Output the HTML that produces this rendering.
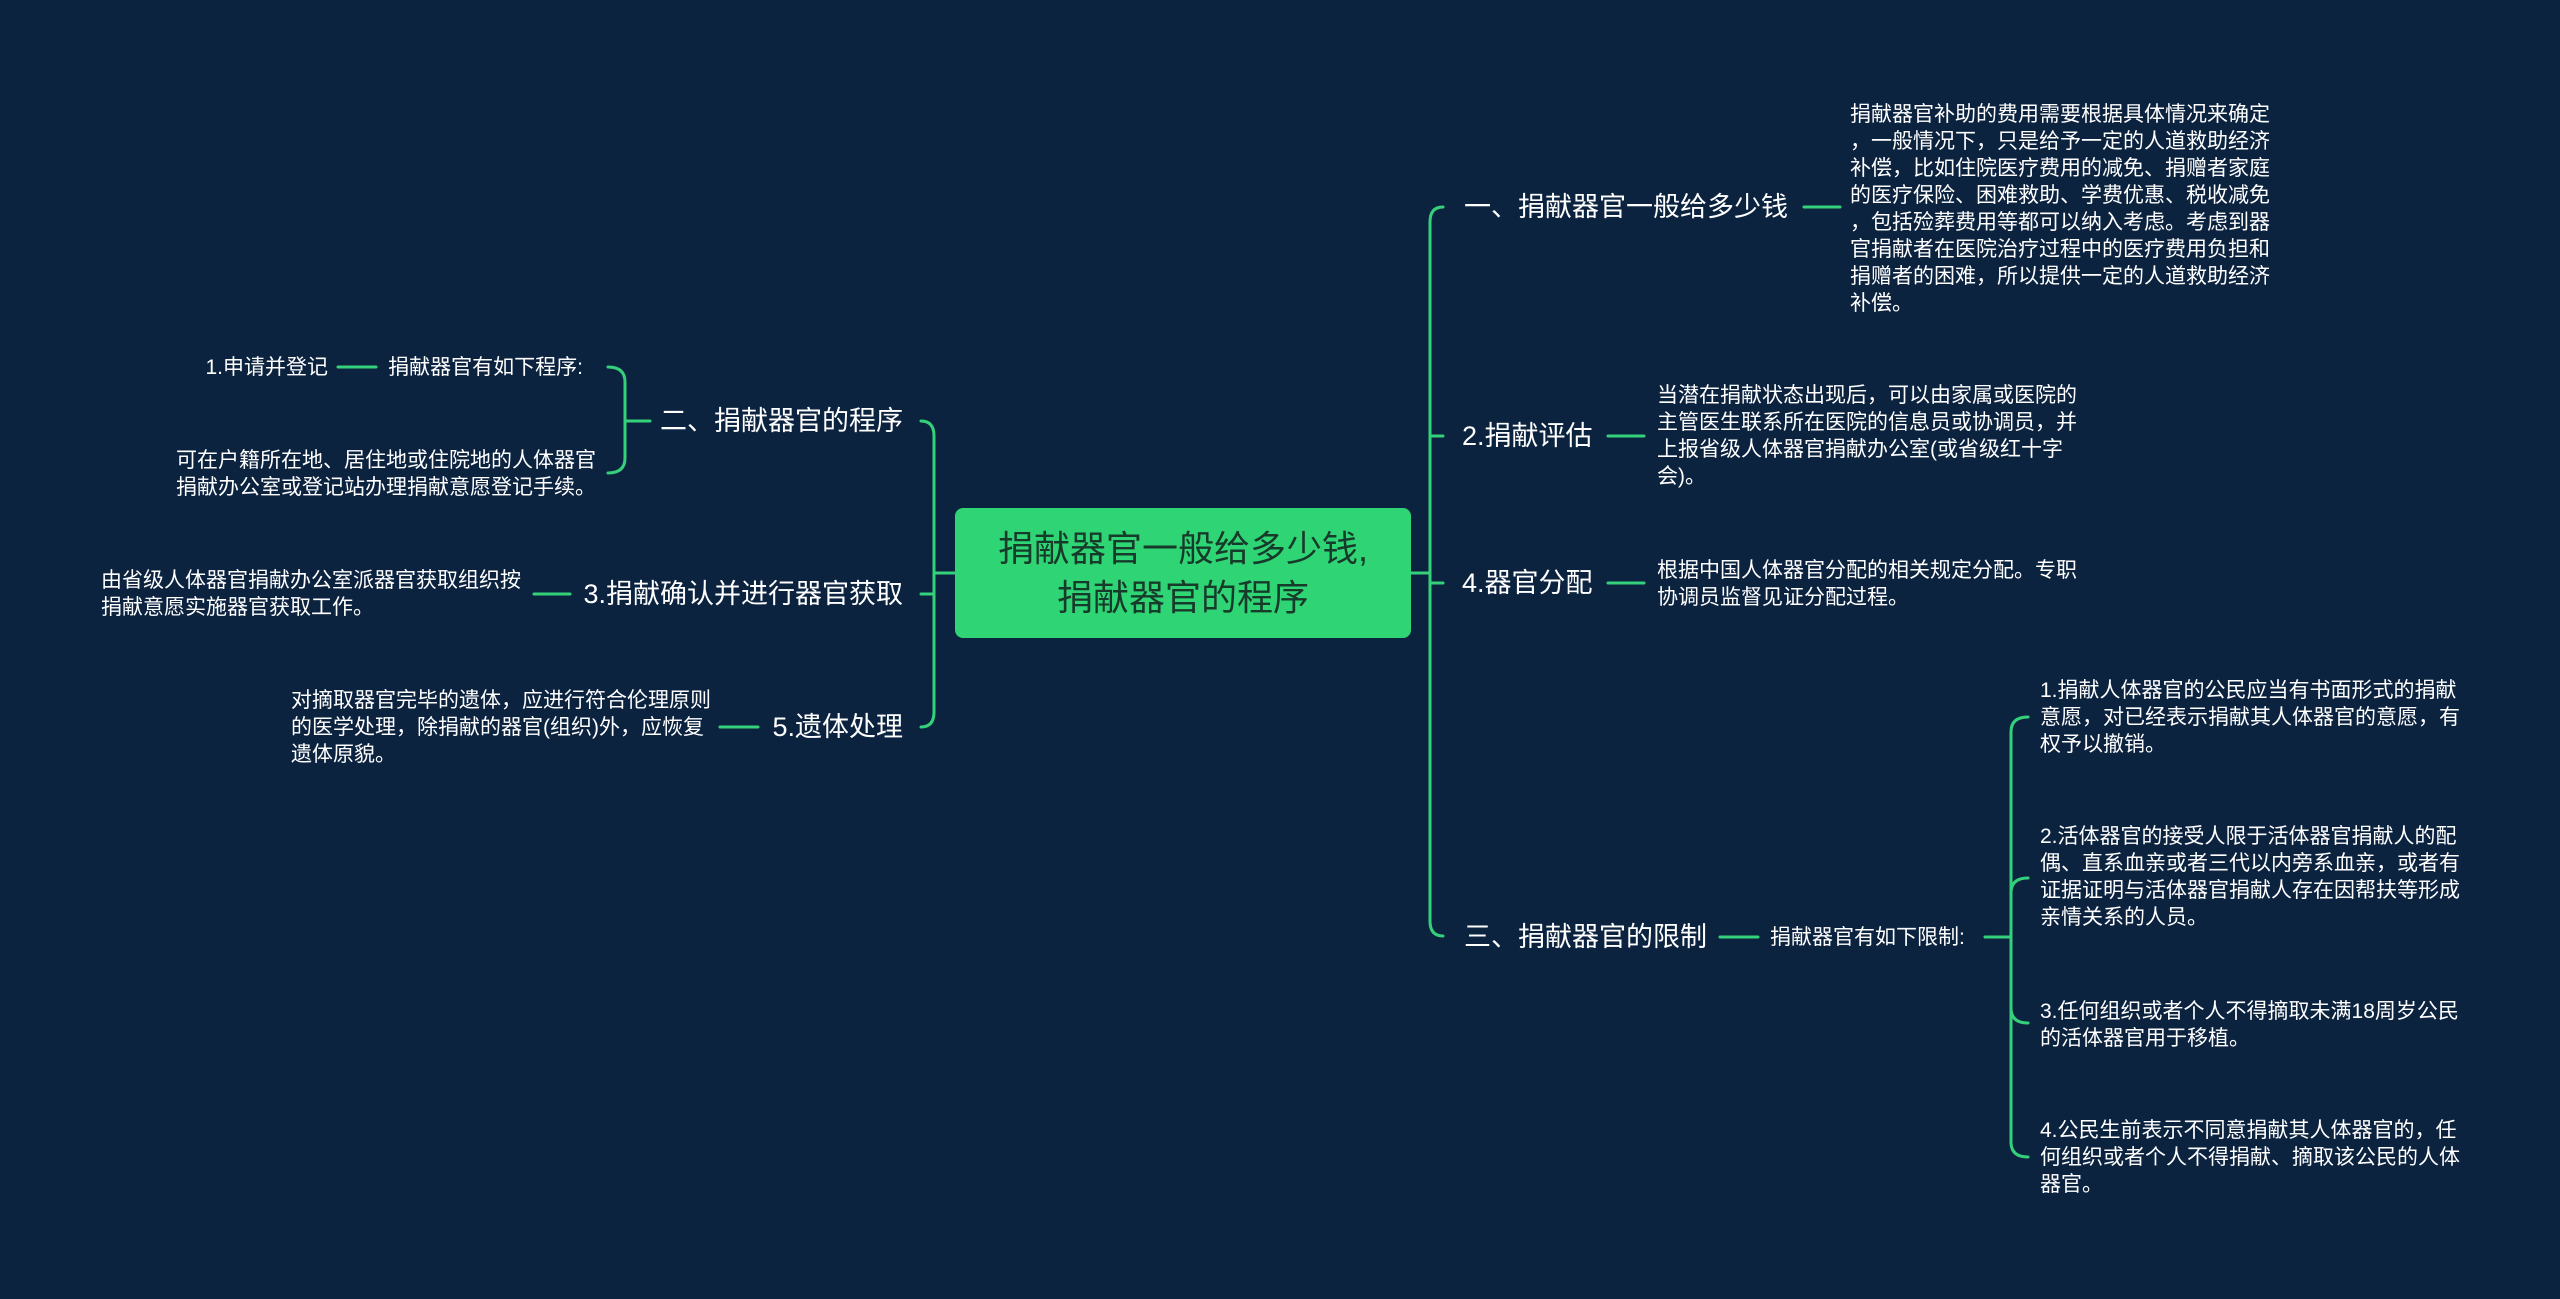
<!DOCTYPE html>
<html><head><meta charset="utf-8"><style>
html,body{margin:0;padding:0;background:#0c2340;}
svg{display:block}
text{font-family:"Liberation Sans","Noto Sans CJK SC",sans-serif;fill:#ffffff;}
.b{font-size:27px}
.d{font-size:21px}
</style></head><body>
<svg width="2560" height="1299" viewBox="0 0 2560 1299" xmlns="http://www.w3.org/2000/svg">
<rect width="2560" height="1299" fill="#0c2340"/>
<g fill="none" stroke="#35d07a" stroke-width="3" stroke-linecap="round">
<path d="M1411,573 H1430"/>
<path d="M1443,207 Q1430,207 1430,222 V921 Q1430,936 1443,936"/>
<path d="M1430,436 H1443"/>
<path d="M1430,583 H1443"/>
<path d="M1804,207 H1840"/>
<path d="M1608,436 H1644"/>
<path d="M1608,583 H1644"/>
<path d="M1720,937 H1758"/>
<path d="M1985,937 H2011"/>
<path d="M2028,717 Q2011,717 2011,732 V1142 Q2011,1157 2028,1157"/>
<path d="M2028,878 Q2011,878 2011,893"/>
<path d="M2028,1023 Q2011,1023 2011,1008"/>
<path d="M955,573 H934"/>
<path d="M921,421 Q934,421 934,436 V712 Q934,727 921,727"/>
<path d="M934,594 H921"/>
<path d="M534,594 H570"/>
<path d="M720,727 H758"/>
<path d="M650,421 H625"/>
<path d="M608,367 Q625,367 625,382 V458 Q625,473 608,473"/>
<path d="M338,367 H376"/>
</g>
<rect x="955" y="508" width="456" height="130" rx="8" fill="#2fd574"/>
<text x="1183" y="561" text-anchor="middle" style="font-size:36px;fill:#173b2a">捐献器官一般给多少钱,</text>
<text x="1183" y="610" text-anchor="middle" style="font-size:36px;fill:#173b2a">捐献器官的程序</text>

<text class="b" x="1464" y="216">一、捐献器官一般给多少钱</text>
<text class="d">
<tspan x="1850" y="121">捐献器官补助的费用需要根据具体情况来确定</tspan>
<tspan x="1850" y="148">，一般情况下，只是给予一定的人道救助经济</tspan>
<tspan x="1850" y="175">补偿，比如住院医疗费用的减免、捐赠者家庭</tspan>
<tspan x="1850" y="202">的医疗保险、困难救助、学费优惠、税收减免</tspan>
<tspan x="1850" y="229">，包括殓葬费用等都可以纳入考虑。考虑到器</tspan>
<tspan x="1850" y="256">官捐献者在医院治疗过程中的医疗费用负担和</tspan>
<tspan x="1850" y="283">捐赠者的困难，所以提供一定的人道救助经济</tspan>
<tspan x="1850" y="310">补偿。</tspan>
</text>

<text class="b" x="1462" y="445">2.捐献评估</text>
<text class="d">
<tspan x="1657" y="402">当潜在捐献状态出现后，可以由家属或医院的</tspan>
<tspan x="1657" y="429">主管医生联系所在医院的信息员或协调员，并</tspan>
<tspan x="1657" y="456">上报省级人体器官捐献办公室(或省级红十字</tspan>
<tspan x="1657" y="483">会)。</tspan>
</text>

<text class="b" x="1462" y="592">4.器官分配</text>
<text class="d">
<tspan x="1657" y="577">根据中国人体器官分配的相关规定分配。专职</tspan>
<tspan x="1657" y="604">协调员监督见证分配过程。</tspan>
</text>

<text class="b" x="1464" y="946">三、捐献器官的限制</text>
<text class="d" x="1770" y="944">捐献器官有如下限制:</text>
<text class="d">
<tspan x="2040" y="697">1.捐献人体器官的公民应当有书面形式的捐献</tspan>
<tspan x="2040" y="724">意愿，对已经表示捐献其人体器官的意愿，有</tspan>
<tspan x="2040" y="751">权予以撤销。</tspan>
<tspan x="2040" y="843">2.活体器官的接受人限于活体器官捐献人的配</tspan>
<tspan x="2040" y="870">偶、直系血亲或者三代以内旁系血亲，或者有</tspan>
<tspan x="2040" y="897">证据证明与活体器官捐献人存在因帮扶等形成</tspan>
<tspan x="2040" y="924">亲情关系的人员。</tspan>
<tspan x="2040" y="1018">3.任何组织或者个人不得摘取未满18周岁公民</tspan>
<tspan x="2040" y="1045">的活体器官用于移植。</tspan>
<tspan x="2040" y="1137">4.公民生前表示不同意捐献其人体器官的，任</tspan>
<tspan x="2040" y="1164">何组织或者个人不得捐献、摘取该公民的人体</tspan>
<tspan x="2040" y="1191">器官。</tspan>
</text>

<text class="b" x="903" y="430" text-anchor="end">二、捐献器官的程序</text>
<text class="d" x="583" y="374" text-anchor="end">捐献器官有如下程序:</text>
<text class="d" x="328" y="374" text-anchor="end">1.申请并登记</text>
<text class="d">
<tspan x="176" y="467">可在户籍所在地、居住地或住院地的人体器官</tspan>
<tspan x="176" y="494">捐献办公室或登记站办理捐献意愿登记手续。</tspan>
</text>

<text class="b" x="903" y="603" text-anchor="end">3.捐献确认并进行器官获取</text>
<text class="d">
<tspan x="101" y="587">由省级人体器官捐献办公室派器官获取组织按</tspan>
<tspan x="101" y="614">捐献意愿实施器官获取工作。</tspan>
</text>

<text class="b" x="903" y="736" text-anchor="end">5.遗体处理</text>
<text class="d">
<tspan x="291" y="707">对摘取器官完毕的遗体，应进行符合伦理原则</tspan>
<tspan x="291" y="734">的医学处理，除捐献的器官(组织)外，应恢复</tspan>
<tspan x="291" y="761">遗体原貌。</tspan>
</text>
</svg>
</body></html>
